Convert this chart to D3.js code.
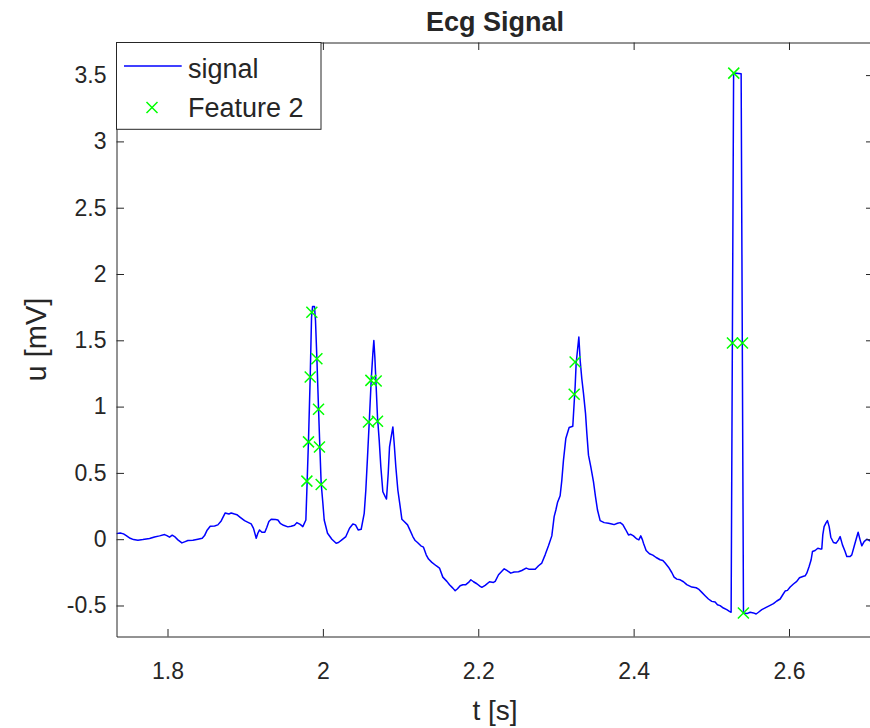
<!DOCTYPE html>
<html>
<head>
<meta charset="utf-8">
<script src="https://cdn.jsdelivr.net/npm/d3@7"></script>
<style>
  html, body { margin: 0; padding: 0; background: #ffffff; }
  svg { display: block; }
  text { font-family: "Liberation Sans", Arial, Helvetica, sans-serif; fill: #262626; }
</style>
</head>
<body>
<svg id="chart" width="870" height="728"></svg>
<script>
// ---------------- data ----------------
const signalT = [
  1.734, 1.7391, 1.7434, 1.7469, 1.752, 1.7563, 1.7619, 1.7683, 1.7769, 1.7833,
  1.7898, 1.7962, 1.7992, 1.8026, 1.8061, 1.8091, 1.8134, 1.8185, 1.8228, 1.8262,
  1.8327, 1.8391, 1.8447, 1.8477, 1.8507, 1.855, 1.8606, 1.8648, 1.8691, 1.8743,
  1.879, 1.882, 1.8863, 1.8893, 1.8936, 1.8992, 1.9043, 1.9077, 1.9107, 1.9142,
  1.9163, 1.9185, 1.9215, 1.9253, 1.9279, 1.9305, 1.9335, 1.9391, 1.9421, 1.9451,
  1.9494, 1.9549, 1.9592, 1.9635, 1.9665, 1.9708, 1.9742,
  1.9781, 1.9794, 1.9815, 1.9837, 1.9854, 1.9867, 1.9892, 1.9905, 1.9923, 1.9944,
  1.9961, 1.9978, 2.0000, 2.0017, 2.006, 2.0116, 2.0171, 2.0201, 2.0244, 2.0296,
  2.0343, 2.0386, 2.042, 2.0454, 2.0493, 2.0532, 2.0553, 2.0579, 2.06, 2.0622,
  2.0643, 2.0656, 2.0669, 2.0686, 2.0703, 2.0725, 2.0746, 2.0772, 2.0802, 2.0819,
  2.0841, 2.0858, 2.0879, 2.0901, 2.0918, 2.0939, 2.0965, 2.0995, 2.1017, 2.1047,
  2.109, 2.1124, 2.1158, 2.1188, 2.1218, 2.1261, 2.1295, 2.133, 2.136, 2.1403,
  2.1458, 2.1501, 2.1544, 2.1596, 2.163, 2.1673, 2.1703, 2.1733, 2.1767, 2.1802,
  2.184, 2.1875, 2.1905, 2.1939, 2.1982, 2.2025,
  2.2046, 2.2089, 2.2145, 2.2196, 2.2218, 2.2261, 2.2334, 2.2368, 2.2419, 2.2462,
  2.2518, 2.2561, 2.2617, 2.265, 2.2733, 2.2776, 2.2818, 2.2861, 2.2904, 2.2947,
  2.2977, 2.2999, 2.302, 2.3054, 2.3076, 2.3097, 2.3127, 2.317, 2.3217, 2.3239,
  2.3247, 2.326, 2.3277, 2.3295, 2.3312, 2.3333, 2.3355, 2.3381, 2.3398, 2.3419,
  2.3449, 2.3483, 2.3509, 2.3535, 2.3569, 2.3621, 2.3676, 2.3719, 2.3749, 2.3792,
  2.3827, 2.3861, 2.3895, 2.3934, 2.3964, 2.3998, 2.4041, 2.4067,
  2.4092, 2.4114, 2.4127, 2.4161, 2.4204, 2.4247, 2.429, 2.4341, 2.4376, 2.4406,
  2.4449, 2.4491, 2.4521, 2.4556, 2.4599, 2.4642, 2.4684, 2.4749, 2.4805, 2.4835,
  2.4878, 2.492, 2.4963, 2.5006, 2.5049, 2.5079, 2.5113, 2.5156, 2.5199, 2.5233,
  2.5255, 2.5287, 2.5384,
  2.5414, 2.5457, 2.55, 2.5543, 2.5577, 2.5607, 2.565, 2.5706, 2.5757, 2.58,
  2.5843, 2.5886, 2.592, 2.595, 2.598, 2.6015, 2.6057, 2.61, 2.6135, 2.6178,
  2.6208, 2.6229, 2.6259, 2.6285, 2.6302, 2.6336, 2.6371, 2.6401, 2.6422, 2.6435,
  2.6452, 2.6478, 2.6495, 2.6517, 2.6538, 2.6572, 2.6607, 2.6637, 2.6658, 2.6688,
  2.6722, 2.6744, 2.6787, 2.6808, 2.6838, 2.6864, 2.689, 2.6915, 2.6937, 2.6967,
  2.7001, 2.7035, 2.7066, 2.7088
];
const signalU = [
  0.042, 0.047, 0.040, 0.027, 0.007, -0.003, -0.008, -0.003, 0.005, 0.017,
  0.025, 0.035, 0.027, 0.015, 0.030, 0.020, -0.005, -0.028, -0.018, -0.010,
  -0.008, 0.000, 0.007, 0.027, 0.065, 0.097, 0.100, 0.108, 0.138, 0.198,
  0.190, 0.198, 0.190, 0.185, 0.165, 0.140, 0.125, 0.115, 0.082, 0.007,
  0.045, 0.070, 0.052, 0.052, 0.090, 0.133, 0.150, 0.148, 0.145, 0.120,
  0.105, 0.093, 0.097, 0.105, 0.125, 0.112, 0.095,
  0.145, 0.371, 0.747, 1.223, 1.674, 1.754, 1.754, 1.649, 1.361, 0.985,
  0.697, 0.421, 0.271, 0.145, 0.045, 0.000, -0.030, -0.025, -0.005, 0.020,
  0.083, 0.115, 0.108, 0.070, 0.075, 0.195, 0.371, 0.672, 0.922, 1.198,
  1.398, 1.498, 1.373, 1.148, 0.922, 0.747, 0.546, 0.358, 0.321, 0.303,
  0.496, 0.697, 0.772, 0.847, 0.722, 0.546, 0.371, 0.246, 0.150, 0.133,
  0.108, 0.065, 0.020, -0.010, -0.025, -0.050, -0.060, -0.118, -0.150, -0.175,
  -0.200, -0.218, -0.286, -0.318, -0.343, -0.369, -0.389, -0.374, -0.351, -0.343,
  -0.343, -0.326, -0.306, -0.321, -0.336, -0.356,
  -0.363, -0.348, -0.321, -0.326, -0.318, -0.268, -0.223, -0.236, -0.256, -0.248,
  -0.246, -0.236, -0.218, -0.226, -0.226, -0.200, -0.180, -0.118, -0.050, 0.025,
  0.170, 0.220, 0.276, 0.328, 0.446, 0.596, 0.759, 0.842, 0.852, 1.073,
  1.148, 1.323, 1.423, 1.524, 1.348, 1.210, 1.098, 0.947, 0.797, 0.634,
  0.546, 0.434, 0.321, 0.220, 0.140, 0.125, 0.120, 0.115, 0.110, 0.120,
  0.125, 0.110, 0.075, 0.032, 0.037, 0.025, 0.002, -0.005,
  0.025, -0.005, -0.030, -0.085, -0.110, -0.120, -0.138, -0.155, -0.160, -0.180,
  -0.211, -0.251, -0.286, -0.301, -0.306, -0.321, -0.343, -0.361, -0.366, -0.376,
  -0.401, -0.426, -0.451, -0.469, -0.474, -0.494, -0.501, -0.519, -0.531, -0.544,
  -0.551, 3.515, 3.510,
  -0.556, -0.561, -0.551, -0.556, -0.564, -0.551, -0.531, -0.514, -0.499, -0.486,
  -0.466, -0.451, -0.419, -0.391, -0.386, -0.361, -0.338, -0.318, -0.291, -0.281,
  -0.276, -0.256, -0.206, -0.155, -0.093, -0.085, -0.068, -0.073, -0.073, 0.032,
  0.095, 0.125, 0.140, 0.095, 0.015, -0.025, -0.030, -0.005, 0.020, -0.043,
  -0.093, -0.130, -0.130, -0.118, -0.055, 0.000, 0.052, -0.005, -0.050, -0.018,
  0.000, -0.010, -0.020, -0.022
];
const featureT = [
  1.9794, 1.9815, 1.9837, 1.9858, 1.9923, 1.9944, 1.9956, 1.9978,
  2.0587, 2.0618, 2.0686, 2.0703,
  2.3235, 2.3247,
  2.5272, 2.5289, 2.5401, 2.5413
];
const featureU = [
  0.438, 0.734, 1.223, 1.711, 1.361, 0.980, 0.696, 0.413,
  0.884, 1.198, 1.193, 0.889,
  1.093, 1.336,
  1.48, 3.515, 1.48, -0.556
];
const xTicks = [1.8, 2, 2.2, 2.4, 2.6];
const xTickLabels = ["1.8", "2", "2.2", "2.4", "2.6"];
const yTicks = [-0.5, 0, 0.5, 1, 1.5, 2, 2.5, 3, 3.5];
const yTickLabels = ["-0.5", "0", "0.5", "1", "1.5", "2", "2.5", "3", "3.5"];
const xLimits = [1.73435, 2.70877];
const yLimits = [-0.7338, 3.7459];
const titleText = "Ecg Signal";
const xLabelText = "t [s]";
const yLabelText = "u [mV]";
const legendLabels = ["signal", "Feature 2"];

// ---------------- layout ----------------
const L = 116.5, R = 873.5, T = 42.5, B = 636.5;
const axisColor = "#262626";
const tickLen = 7.5;
const tickFont = 23;

const svg = d3.select("#chart");
svg.append("rect").attr("width", 870).attr("height", 728).attr("fill", "#fff");

const x = d3.scaleLinear().domain(xLimits).range([L, R]);
const y = d3.scaleLinear().domain(yLimits).range([B, T]);

svg.append("defs").append("clipPath").attr("id", "clip")
  .append("rect").attr("x", L).attr("y", T).attr("width", R - L).attr("height", B - T);

// signal
const pts = signalT.map((t, i) => [t, signalU[i]]);
svg.append("path")
  .datum(pts)
  .attr("clip-path", "url(#clip)")
  .attr("fill", "none")
  .attr("stroke", "#0000ff")
  .attr("stroke-width", 1.5)
  .attr("stroke-linejoin", "round")
  .attr("d", d3.line().x(d => x(d[0])).y(d => y(d[1])));

// feature markers
const cross = "M-5.5,-5.5L5.5,5.5M-5.5,5.5L5.5,-5.5";
svg.append("g").selectAll("path")
  .data(featureT.map((t, i) => [t, featureU[i]]))
  .join("path")
  .attr("transform", d => `translate(${x(d[0])},${y(d[1])})`)
  .attr("d", cross)
  .attr("fill", "none")
  .attr("stroke", "#00ff00")
  .attr("stroke-width", 1.5);

// axes
function styleAxis(g) {
  g.selectAll(".domain").attr("stroke", axisColor).attr("stroke-width", 1);
  g.selectAll(".tick line").attr("stroke", axisColor).attr("stroke-width", 1);
  g.selectAll(".tick text")
    .attr("fill", axisColor)
    .style("font-family", '"Liberation Sans", Arial, sans-serif')
    .style("font-size", tickFont + "px");
}

const gx = svg.append("g").attr("transform", `translate(0,${B})`)
  .call(d3.axisBottom(x).tickValues(xTicks).tickFormat((d, i) => xTickLabels[i])
    .tickSizeInner(-tickLen).tickSizeOuter(0).tickPadding(26));
styleAxis(gx);

const gxt = svg.append("g").attr("transform", `translate(0,${T})`)
  .call(d3.axisTop(x).tickValues(xTicks).tickFormat("")
    .tickSizeInner(-tickLen).tickSizeOuter(0));
styleAxis(gxt);

const gy = svg.append("g").attr("transform", `translate(${L},0)`)
  .call(d3.axisLeft(y).tickValues(yTicks).tickFormat((d, i) => yTickLabels[i])
    .tickSizeInner(-tickLen).tickSizeOuter(0).tickPadding(10));
styleAxis(gy);

const gyr = svg.append("g").attr("transform", `translate(${R},0)`)
  .call(d3.axisRight(y).tickValues(yTicks).tickFormat("")
    .tickSizeInner(-tickLen).tickSizeOuter(0));
styleAxis(gyr);

// title and labels
svg.append("text")
  .attr("x", (L + R) / 2).attr("y", 31)
  .attr("text-anchor", "middle")
  .style("font-size", "27px").style("font-weight", "bold")
  .attr("fill", "#000")
  .text(titleText);

svg.append("text")
  .attr("x", (L + R) / 2).attr("y", 720)
  .attr("text-anchor", "middle")
  .style("font-size", "28px")
  .text(xLabelText);

svg.append("text")
  .attr("transform", `translate(46,${(T + B) / 2}) rotate(-90)`)
  .attr("text-anchor", "middle")
  .style("font-size", "29px")
  .text(yLabelText);

// legend
const lg = svg.append("g");
lg.append("rect")
  .attr("x", L).attr("y", T).attr("width", 321 - L).attr("height", 129.3 - T)
  .attr("fill", "#fff").attr("stroke", axisColor).attr("stroke-width", 1);
lg.append("line")
  .attr("x1", 124).attr("x2", 181.7).attr("y1", 66).attr("y2", 66)
  .attr("stroke", "#0000ff").attr("stroke-width", 1.4);
lg.append("text").attr("x", 188).attr("y", 78)
  .style("font-size", "27px").attr("fill", "#000").text(legendLabels[0]);
lg.append("path")
  .attr("transform", "translate(152,107.5)")
  .attr("d", cross).attr("fill", "none")
  .attr("stroke", "#00ff00").attr("stroke-width", 1.5);
lg.append("text").attr("x", 188).attr("y", 117)
  .style("font-size", "27px").attr("fill", "#000").text(legendLabels[1]);
</script>
</body>
</html>
